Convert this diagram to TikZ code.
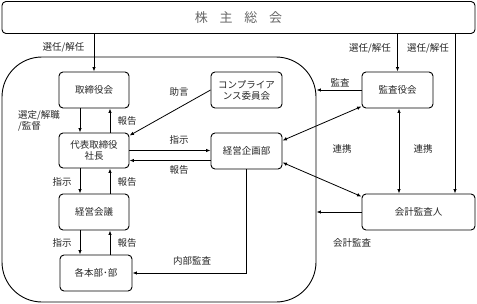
\documentclass[tikz,border=0pt]{standalone}
\usepackage{fontspec}
\setmainfont{Noto Sans CJK JP}
\usetikzlibrary{arrows.meta,calc}
\begin{document}
\begin{tikzpicture}[x=1pt,y=-1pt,
  every node/.style={font=\fontsize{9.5}{11}\selectfont, text=black!85, inner sep=0pt},
  box/.style={draw, line width=0.9pt, rounded corners=4pt, align=center, inner sep=1pt},
  lbl/.style={},
  arr/.style={line width=0.8pt, -{Latex[length=4.5pt,width=3.5pt]}},
  darr/.style={line width=0.8pt, {Latex[length=4.5pt,width=3.5pt]}-{Latex[length=4.5pt,width=3.5pt]}},
  ln/.style={line width=0.8pt}]
\useasboundingbox (0,0) rectangle (477,303);
% top
\node[box, minimum width=473pt, minimum height=32pt, font=\fontsize{13}{15}\selectfont, text=black!60] (top) at (238.5,17.5) {株\hspace{0.9em}主\hspace{0.9em}総\hspace{0.9em}会};
% region
\node[draw, line width=0.9pt, rounded corners=40pt, minimum width=314pt, minimum height=245pt] (region) at (159,179.5) {};
% boxes
\node[box, minimum width=70pt, minimum height=36pt] (tori) at (94,90) {取締役会};
\node[box, minimum width=71pt, minimum height=36pt] (comp) at (246.5,90) {コンプライア\\ンス委員会};
\node[box, minimum width=71pt, minimum height=36pt] (kansa) at (397.5,90) {監査役会};
\node[box, minimum width=70pt, minimum height=35pt] (dai) at (94,150.5) {代表取締役\\社長};
\node[box, minimum width=71pt, minimum height=36pt] (kikaku) at (246.5,151) {経営企画部};
\node[box, minimum width=70pt, minimum height=36pt] (kaigi) at (94,212) {経営会議};
\node[box, minimum width=72pt, minimum height=36pt] (kaku) at (96,273) {各本部･部};
\node[box, minimum width=113pt, minimum height=36pt] (kaikei) at (418.5,212) {会計監査人};
% from top
\draw[arr] (top.south -| tori.north) -- (tori.north);
\draw[arr] (top.south -| kansa.north) -- (kansa.north);
\coordinate (k3) at ([xshift=36.5pt]kaikei.north);
\draw[arr] (top.south -| k3) -- (k3);
% vertical chain
\draw[arr] ([xshift=-14pt]tori.south) -- ([xshift=-14pt]tori.south |- dai.north);
\draw[arr] ([xshift=16pt]dai.north) -- ([xshift=16pt]dai.north |- tori.south);
\draw[arr] ([xshift=-14pt]dai.south) -- ([xshift=-14pt]dai.south |- kaigi.north);
\draw[arr] ([xshift=16pt]kaigi.north) -- ([xshift=16pt]kaigi.north |- dai.south);
\draw[arr] ([xshift=-14pt]kaigi.south) -- ([xshift=-14pt]kaigi.south |- kaku.north);
\draw[arr] ([xshift=16pt]kaku.north -| kaigi.south) -- ([xshift=16pt]kaigi.south);
% compliance
\draw[arr] (comp.west) -- ([yshift=-3pt]dai.north east);
% dai <-> kikaku
\draw[arr] (dai.east) -- (dai.east -| kikaku.west);
\draw[arr] ([yshift=-9.5pt]kikaku.west) -- ([yshift=-9.5pt]kikaku.west -| dai.east);
% naibu kansa
\draw[arr] (kikaku.south) |- (kaku.east);
% kansa
\draw[arr] (kansa.west) -- (kansa.west -| region.east);
\draw[arr] (kaikei.west) -- (kaikei.west -| region.east);
\draw[darr] ([yshift=2pt]kansa.south west) -- ([yshift=-8pt]kikaku.north east);
\draw[darr] ([yshift=7pt]kikaku.south east) -- ([yshift=-3pt]kaikei.north west);
\draw[darr] ([xshift=1.5pt]kansa.south) -- ([xshift=1.5pt]kansa.south |- kaikei.north);
% labels
\node[lbl] (l1) at (63.5,47) {選任/解任};
\node[lbl] (l2) at (370,48) {選任/解任};
\node[lbl] (l3) at (428,48) {選任/解任};
\node[lbl, align=left, anchor=west] (l4) at (18,121) {選定/解職\\/監督};
\node[lbl] (l5) at (127,121) {報告};
\node[lbl] (l6) at (179,92) {助言};
\node[lbl] (l7) at (179,140) {指示};
\node[lbl] (l8) at (179,170) {報告};
\node[lbl] (l9) at (62,182) {指示};
\node[lbl] (l10) at (127,182) {報告};
\node[lbl] (l11) at (62,243) {指示};
\node[lbl] (l12) at (127,243) {報告};
\node[lbl] (l13) at (192,261) {内部監査};
\node[lbl] (l14) at (340,83) {監査};
\node[lbl] (l15) at (342,149) {連携};
\node[lbl] (l16) at (423,149) {連携};
\node[lbl] (l17) at (352,243) {会計監査};
\end{tikzpicture}
\end{document}
